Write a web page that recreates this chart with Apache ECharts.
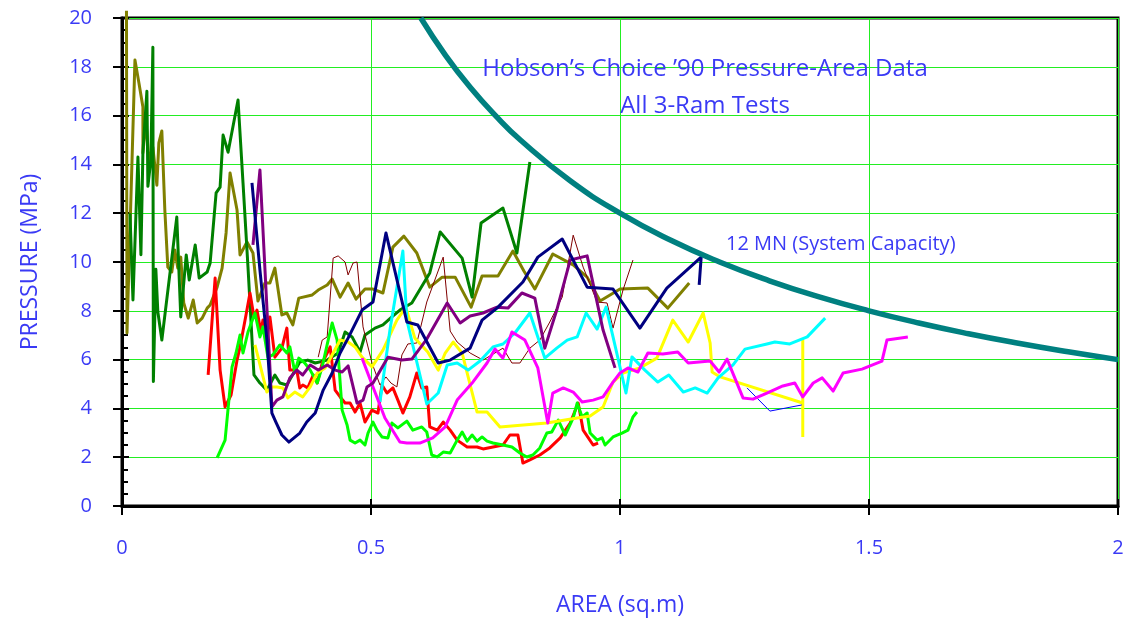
<!DOCTYPE html>
<html>
<head>
<meta charset="utf-8">
<script src="https://cdn.jsdelivr.net/npm/echarts@6/dist/echarts.min.js"></script>
<style>
  html, body { margin: 0; padding: 0; background: #ffffff; }
  #chart { width: 1126px; height: 622px; }
</style>
</head>
<body>
<div id="chart"></div>
<script>
// Hobson's Choice '90 ice indentation tests: pressure (MPa) against contact area (sq.m)
const xTicks = [0, 0.5, 1, 1.5, 2];
const yTicks = [0, 2, 4, 6, 8, 10, 12, 14, 16, 18, 20];

const olive = [[0.009,20.3],[0.010,7.09],[0.026,18.28],[0.034,17.34],[0.042,16.35],[0.042,14.47],[0.048,15.82],[0.054,14.18],[0.062,14.71],[0.070,13.15],[0.074,14.88],[0.080,15.37],[0.086,12.13],[0.092,9.79],[0.100,9.59],[0.106,10.49],[0.112,9.75],[0.118,10.2],[0.124,8.32],[0.133,7.7],[0.143,8.44],[0.151,7.5],[0.161,7.7],[0.171,8.11],[0.177,8.24],[0.191,8.97],[0.201,9.75],[0.209,11.19],[0.217,13.65],[0.231,12.13],[0.237,10.29],[0.251,10.82],[0.263,10.37],[0.273,8.4],[0.287,9.14],[0.297,9.14],[0.307,9.75],[0.321,7.83],[0.331,7.91],[0.343,7.42],[0.355,8.52],[0.382,8.65],[0.394,8.85],[0.412,9.06],[0.422,9.30],[0.438,8.56],[0.454,9.14],[0.470,8.48],[0.488,8.89],[0.504,8.89],[0.524,8.73],[0.544,10.61],[0.566,11.06],[0.592,10.37],[0.618,8.97],[0.643,9.38],[0.669,9.38],[0.701,8.15],[0.723,9.43],[0.755,9.43],[0.785,10.45],[0.807,9.63],[0.829,8.89],[0.865,10.33],[0.906,9.88],[0.934,9.38],[0.960,8.40],[1.000,8.89],[1.056,8.93],[1.096,8.11],[1.139,9.14]];

const green = [[0.016,12.0],[0.022,8.44],[0.032,14.3],[0.038,10.3],[0.042,14.5],[0.050,17.0],[0.052,13.1],[0.058,14.2],[0.062,18.8],[0.063,5.1],[0.068,9.7],[0.072,7.95],[0.080,6.8],[0.110,11.84],[0.118,7.75],[0.129,10.29],[0.135,9.26],[0.147,10.7],[0.155,9.34],[0.171,9.59],[0.177,9.96],[0.189,12.83],[0.197,13.07],[0.203,15.2],[0.213,14.5],[0.233,16.64],[0.243,13.24],[0.253,9.79],[0.265,5.37],[0.277,5.04],[0.291,4.75],[0.307,5.37],[0.317,5.04],[0.331,4.96],[0.357,5.90],[0.373,5.98],[0.388,5.86],[0.412,5.98],[0.434,6.27],[0.448,7.13],[0.462,6.93],[0.478,6.31],[0.488,7.01],[0.508,7.29],[0.524,7.42],[0.542,7.75],[0.558,8.03],[0.582,8.32],[0.618,9.55],[0.639,11.23],[0.683,10.16],[0.703,8.56],[0.721,11.6],[0.765,12.21],[0.793,10.37],[0.819,14.1]];

const navy = [[0.261,13.24],[0.277,9.67],[0.291,6.80],[0.301,3.81],[0.309,3.44],[0.321,2.91],[0.335,2.62],[0.357,2.99],[0.371,3.44],[0.388,3.81],[0.404,4.75],[0.422,5.45],[0.438,6.27],[0.454,6.88],[0.482,8.03],[0.504,8.36],[0.530,11.19],[0.572,7.54],[0.594,7.42],[0.635,5.86],[0.659,5.98],[0.699,6.47],[0.723,7.62],[0.753,8.11],[0.805,9.18],[0.835,10.2],[0.884,10.94],[0.934,8.97],[0.986,8.89],[1.040,7.29],[1.094,8.93],[1.163,10.2],[1.159,9.06]];

const purple = [[0.263,10.7],[0.277,13.77],[0.301,4.06],[0.311,4.34],[0.323,4.47],[0.337,5.25],[0.351,5.57],[0.363,5.37],[0.378,5.78],[0.394,5.57],[0.412,5.78],[0.428,5.57],[0.442,5.49],[0.454,5.74],[0.472,4.22],[0.484,4.34],[0.492,4.88],[0.504,5.04],[0.534,6.1],[0.562,5.98],[0.582,6.02],[0.612,6.84],[0.653,8.32],[0.679,7.5],[0.699,7.79],[0.725,7.91],[0.753,8.15],[0.775,8.11],[0.803,8.73],[0.829,8.52],[0.849,6.47],[0.873,8.03],[0.900,10.08],[0.934,10.25],[0.966,7.21],[0.990,5.66]];

const red = [[0.173,5.37],[0.187,9.34],[0.197,5.57],[0.207,4.06],[0.219,4.55],[0.231,5.98],[0.237,6.52],[0.249,7.83],[0.257,8.73],[0.265,7.75],[0.271,8.03],[0.279,7.13],[0.283,7.62],[0.291,6.80],[0.297,7.75],[0.307,6.1],[0.321,6.47],[0.331,7.29],[0.337,5.57],[0.351,5.57],[0.357,4.84],[0.363,4.96],[0.373,4.84],[0.384,5.37],[0.392,5.04],[0.402,5.86],[0.412,6.27],[0.418,6.52],[0.428,4.75],[0.438,4.47],[0.448,4.22],[0.458,4.22],[0.468,3.85],[0.478,4.22],[0.488,3.44],[0.502,3.93],[0.514,3.81],[0.522,4.96],[0.532,4.63],[0.544,4.84],[0.554,4.34],[0.564,3.81],[0.578,4.47],[0.592,5.45],[0.602,4.84],[0.612,4.88],[0.618,3.24],[0.633,3.11],[0.645,3.44],[0.659,3.11],[0.673,2.70],[0.693,2.42],[0.713,2.42],[0.725,2.34],[0.745,2.42],[0.765,2.50],[0.779,2.91],[0.795,2.91],[0.805,1.76],[0.819,1.89],[0.839,2.09],[0.859,2.38],[0.880,2.79],[0.900,3.40],[0.916,4.22],[0.926,3.11],[0.946,2.50],[0.956,2.58]];

const lime = [[0.191,1.97],[0.207,2.70],[0.221,5.70],[0.229,6.27],[0.237,7.01],[0.243,6.27],[0.253,7.13],[0.267,7.91],[0.277,6.93],[0.283,7.34],[0.293,6.1],[0.303,6.19],[0.317,6.6],[0.331,6.27],[0.337,6.52],[0.347,5.49],[0.355,6.06],[0.367,5.86],[0.378,5.57],[0.392,5.04],[0.402,5.70],[0.414,6.80],[0.422,7.50],[0.432,6.80],[0.442,3.93],[0.452,3.32],[0.458,2.70],[0.468,2.58],[0.478,2.70],[0.488,2.50],[0.494,2.99],[0.504,3.44],[0.512,3.11],[0.522,2.83],[0.534,2.79],[0.542,3.40],[0.554,3.20],[0.572,3.48],[0.584,3.11],[0.602,3.24],[0.612,3.03],[0.622,2.09],[0.633,2.01],[0.645,2.21],[0.659,2.17],[0.673,2.70],[0.683,3.03],[0.693,2.66],[0.703,2.91],[0.713,2.66],[0.723,2.83],[0.733,2.66],[0.745,2.58],[0.765,2.50],[0.783,2.42],[0.799,2.17],[0.813,2.01],[0.825,2.09],[0.839,2.38],[0.853,2.99],[0.863,3.03],[0.876,3.52],[0.890,2.91],[0.906,3.61],[0.914,4.22],[0.924,3.65],[0.934,3.81],[0.940,2.99],[0.954,2.70],[0.964,2.79],[0.970,2.50],[0.986,2.83],[1.004,2.99],[1.016,3.11],[1.026,3.65],[1.034,3.85]];

const yellow = [[0.267,6.6],[0.291,4.67],[0.301,4.88],[0.311,4.88],[0.323,4.84],[0.333,4.43],[0.347,4.67],[0.363,4.47],[0.378,4.88],[0.392,5.45],[0.408,5.66],[0.424,6.27],[0.438,6.80],[0.454,6.72],[0.468,6.52],[0.482,6.1],[0.502,5.70],[0.524,6.39],[0.552,7.62],[0.570,8.15],[0.588,6.88],[0.614,6.31],[0.635,5.57],[0.649,6.27],[0.665,6.72],[0.683,6.27],[0.713,3.85],[0.733,3.85],[0.759,3.24],[0.853,3.40],[0.914,3.61],[0.940,3.69],[0.966,4.06],[0.986,5.08],[1.006,5.45],[1.040,5.66],[1.074,6.06],[1.106,7.62],[1.137,6.72],[1.167,7.91],[1.181,6.68],[1.185,5.49],[1.201,5.29],[1.367,4.22],[1.367,6.80],[1.367,2.83]];

const cyan = [[0.518,4.26],[0.538,7.21],[0.564,10.45],[0.572,7.62],[0.612,4.18],[0.635,4.63],[0.653,5.78],[0.673,5.86],[0.695,5.57],[0.719,5.94],[0.745,6.52],[0.765,6.64],[0.789,7.09],[0.819,7.91],[0.849,6.06],[0.873,6.47],[0.894,6.80],[0.914,6.93],[0.932,7.91],[0.954,7.25],[0.972,8.15],[0.986,6.93],[1.012,4.63],[1.024,6.11],[1.050,5.57],[1.076,5.08],[1.098,5.37],[1.127,4.67],[1.151,4.84],[1.175,4.63],[1.197,5.25],[1.227,5.78],[1.251,6.43],[1.295,6.64],[1.311,6.72],[1.341,6.64],[1.376,6.93],[1.412,7.70]];

const magenta = [[0.482,6.06],[0.504,4.88],[0.528,3.61],[0.558,2.62],[0.572,2.58],[0.598,2.58],[0.624,2.79],[0.649,3.24],[0.673,4.34],[0.703,5.04],[0.733,5.86],[0.749,6.43],[0.765,6.06],[0.783,7.13],[0.809,6.80],[0.835,5.66],[0.855,3.40],[0.865,4.63],[0.886,4.84],[0.906,4.67],[0.924,4.26],[0.946,4.34],[0.966,4.47],[0.986,5.08],[1.000,5.45],[1.016,5.66],[1.036,5.49],[1.056,6.27],[1.086,6.23],[1.116,6.31],[1.137,5.86],[1.181,5.94],[1.199,5.49],[1.215,6.02],[1.247,4.43],[1.267,4.38],[1.295,4.63],[1.327,4.92],[1.351,5.04],[1.367,4.47],[1.388,5.04],[1.406,5.25],[1.428,4.71],[1.448,5.45],[1.486,5.61],[1.526,5.94],[1.536,6.80],[1.578,6.93]];

const maroon = [[0.394,6.1],[0.402,6.80],[0.412,6.93],[0.424,10.16],[0.434,10.25],[0.448,10.0],[0.454,9.47],[0.464,9.96],[0.472,10.0],[0.484,7.34],[0.502,5.86],[0.518,4.96],[0.530,5.29],[0.540,5.04],[0.552,4.88],[0.562,6.19],[0.574,6.64],[0.592,6.68],[0.612,8.36],[0.645,10.2],[0.659,7.17],[0.673,6.72],[0.699,6.27],[0.725,5.98],[0.765,6.47],[0.783,5.86],[0.799,5.86],[0.819,6.47],[0.839,6.80],[0.859,7.54],[0.884,8.56],[0.906,11.1],[0.926,9.79],[0.954,8.36],[0.974,8.32],[0.986,7.29],[1.006,8.85],[1.026,10.08]];

const blue = [[1.255,4.84],[1.301,3.89],[1.365,4.14]];

// 12 MN rated load of the rams
const capacity = [[0.6,20.0],[0.65,18.46],[0.7,17.14],[0.75,16.0],[0.8,15.0],[0.9,13.33],[1.0,12.0],[1.1,10.91],[1.2,10.0],[1.3,9.23],[1.4,8.57],[1.5,8.0],[1.6,7.5],[1.7,7.06],[1.8,6.67],[1.9,6.32],[2.0,6.0]];

const FONT = '"Open Sans", "DejaVu Sans", sans-serif';
const INK = '#3a3af5';

const chart = echarts.init(document.getElementById('chart'), null, { renderer: 'canvas' });

function trace(name, data, color, width, extra) {
  return Object.assign({
    name: name,
    type: 'line',
    data: data,
    showSymbol: false,
    symbol: 'none',
    animation: false,
    lineStyle: { color: color, width: width, join: 'round' },
    xAxisIndex: 0,
    yAxisIndex: 0
  }, extra || {});
}

const option = {
  backgroundColor: '#ffffff',
  animation: false,
  grid: {
    left: 122, right: 8, top: 18, bottom: 116,
    containLabel: false, outerBoundsMode: 'none',
    show: true, borderColor: '#000000', borderWidth: 3, backgroundColor: 'transparent'
  },
  xAxis: [
    {
      type: 'value', min: 0, max: 2, interval: 0.5,
      name: 'AREA (sq.m)', nameLocation: 'middle', nameGap: 88,
      nameTextStyle: { color: INK, fontSize: 23, fontFamily: FONT },
      axisLine: { show: true, onZero: false, lineStyle: { color: '#000', width: 3 } },
      axisTick: { show: true, length: 9, lineStyle: { color: '#000', width: 2 } },
      axisLabel: { color: INK, fontSize: 20, fontFamily: FONT, margin: 32,
        formatter: v => String(v) },
      splitLine: { show: true, lineStyle: { color: '#22ee22', width: 1 } }
    },
    {
      type: 'value', min: 0, max: 2, interval: 0.5, position: 'bottom',
      axisLine: { show: false },
      axisTick: { show: true, inside: true, length: 7, lineStyle: { color: '#000', width: 2 } },
      axisLabel: { show: false },
      splitLine: { show: false }
    }
  ],
  yAxis: [
    {
      type: 'value', min: 0, max: 20, interval: 2,
      name: 'PRESSURE (MPa)', nameLocation: 'middle', nameGap: 80, nameRotate: 90,
      nameTextStyle: { color: INK, fontSize: 23, fontFamily: FONT },
      axisLine: { show: true, onZero: false, lineStyle: { color: '#000', width: 3 } },
      axisTick: { show: true, length: 9, lineStyle: { color: '#000', width: 2 } },
      axisLabel: { color: INK, fontSize: 20, fontFamily: FONT, margin: 30 },
      splitLine: { show: true, lineStyle: { color: '#22ee22', width: 1 } }
    },
    {
      type: 'value', min: 0, max: 20, interval: 2, position: 'left',
      axisLine: { show: false },
      axisTick: { show: true, inside: true, length: 7, lineStyle: { color: '#000', width: 2 } },
      minorTick: { show: true, splitNumber: 4, length: 6, lineStyle: { color: '#000', width: 2 } },
      axisLabel: { show: false },
      splitLine: { show: false }
    }
  ],
  graphic: [
    { type: 'text', x: 705, y: 57, z: 100,
      style: { text: 'Hobson\u2019s Choice \u201990 Pressure-Area Data', fill: INK, font: '24px ' + FONT, textAlign: 'center' } },
    { type: 'text', x: 705, y: 94, z: 100,
      style: { text: 'All 3-Ram Tests', fill: INK, font: '24px ' + FONT, textAlign: 'center' } },
    { type: 'text', x: 726, y: 234, z: 100,
      style: { text: '12 MN (System Capacity)', fill: INK, font: '20px ' + FONT } }
  ],
  series: [
    trace('olive', olive, '#808000', 3, { clip: false }),
    trace('green', green, '#008000', 3),
    trace('maroon', maroon, '#800000', 1),
    trace('red', red, '#ff0000', 3),
    trace('lime', lime, '#00ff00', 3),
    trace('yellow', yellow, '#ffff00', 3),
    trace('blue', blue, '#0000ff', 1),
    trace('cyan', cyan, '#00ffff', 3),
    trace('magenta', magenta, '#ff00ff', 3),
    trace('purple', purple, '#800080', 3),
    trace('navy', navy, '#000080', 3),
    trace('capacity', capacity, '#008080', 5.5, { smooth: true })
  ]
};

chart.setOption(option);
</script>
</body>
</html>
